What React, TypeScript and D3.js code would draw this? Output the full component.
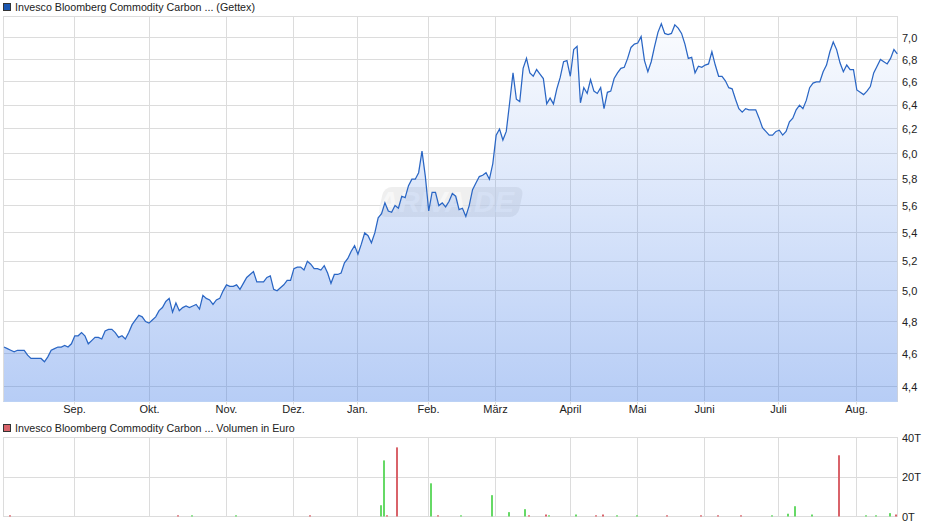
import { useEffect, useRef } from 'react'
import * as d3 from 'd3'

const W = 940
const H = 526
const FONT = '"Liberation Sans", Arial, sans-serif'
const GRID = '#dcdcdc'
const TEXT = '#222222'

const TITLE_PRICE = 'Invesco Bloomberg Commodity Carbon ... (Gettex)'
const TITLE_VOL = 'Invesco Bloomberg Commodity Carbon ... Volumen in Euro'

// daily closes
const PRICES = [
  4.64, 4.63, 4.62, 4.61, 4.62, 4.62, 4.62, 4.59, 4.57, 4.57, 4.57, 4.57, 4.55, 4.58, 4.62, 4.63, 4.64, 4.64, 4.65, 4.64,
  4.66, 4.71, 4.71, 4.73, 4.71, 4.66, 4.68, 4.70, 4.70, 4.69, 4.74, 4.75, 4.75, 4.73, 4.70, 4.71, 4.69, 4.73, 4.78, 4.81,
  4.84, 4.83, 4.80, 4.79, 4.81, 4.83, 4.87, 4.89, 4.93, 4.95, 4.86, 4.92, 4.87, 4.89, 4.90, 4.89, 4.90, 4.91, 4.88, 4.97,
  4.95, 4.94, 4.91, 4.94, 4.95, 5.00, 5.04, 5.03, 5.03, 5.04, 5.01, 5.05, 5.09, 5.11, 5.13, 5.06, 5.06, 5.06, 5.09, 5.10,
  5.01, 5.00, 5.02, 5.04, 5.07, 5.07, 5.15, 5.16, 5.16, 5.14, 5.20, 5.18, 5.15, 5.15, 5.14,
  5.17, 5.12, 5.05, 5.11, 5.11, 5.12, 5.19, 5.22, 5.27, 5.31, 5.25, 5.32, 5.40, 5.38, 5.33, 5.40, 5.51, 5.54, 5.62, 5.56,
  5.55, 5.60, 5.58, 5.67, 5.66, 5.75, 5.80, 5.80, 5.85, 6.02, 5.82, 5.56, 5.70, 5.70, 5.60, 5.62, 5.59, 5.63, 5.69, 5.67,
  5.57, 5.58, 5.52, 5.60, 5.72, 5.77, 5.82, 5.83, 5.85, 5.80, 5.92, 6.15, 6.20, 6.11, 6.18,
  6.42, 6.68, 6.45, 6.43, 6.72, 6.81, 6.68, 6.65, 6.71, 6.67, 6.63, 6.41, 6.46, 6.41, 6.54, 6.64, 6.78, 6.79, 6.65, 6.89,
  6.92, 6.42, 6.55, 6.50, 6.62, 6.52, 6.50, 6.55, 6.37, 6.51, 6.52, 6.63, 6.68, 6.72, 6.73, 6.81, 6.91, 6.94, 6.95, 7.01,
  6.79, 6.69, 6.78, 6.92, 7.05, 7.13, 7.04, 7.03, 7.04, 7.12, 7.09, 7.04, 6.94, 6.81, 6.82, 6.68, 6.74, 6.73, 6.75, 6.76,
  6.87, 6.75, 6.65,
  6.65, 6.61, 6.55, 6.54, 6.45, 6.37, 6.34, 6.37, 6.36, 6.36, 6.36, 6.29, 6.21, 6.18, 6.15, 6.15, 6.18, 6.19, 6.15, 6.18,
  6.26, 6.29, 6.36, 6.40, 6.37, 6.44, 6.55, 6.59, 6.60, 6.60, 6.69, 6.75, 6.87, 6.96, 6.89, 6.77, 6.69, 6.75, 6.71, 6.71,
  6.53, 6.51, 6.49, 6.52, 6.56, 6.68, 6.74, 6.80, 6.78, 6.76, 6.81, 6.89, 6.85,
]

const MONTHS = ['Sep.', 'Okt.', 'Nov.', 'Dez.', 'Jan.', 'Feb.', 'März', 'April', 'Mai', 'Juni', 'Juli', 'Aug.']
const MONTH_IDX = [20.9, 43.2, 66.0, 85.9, 104.9, 125.9, 145.8, 168.0, 187.9, 207.8, 229.8, 252.9]

const PRICE_TICKS = [4.4, 4.6, 4.8, 5.0, 5.2, 5.4, 5.6, 5.8, 6.0, 6.2, 6.4, 6.6, 6.8, 7.0]
const VOL_TICKS = [0, 20, 40]

// volume in thousand euro
const UP_IDX = [56, 69, 112, 113, 127, 136, 145, 150, 155, 162, 170, 182, 188, 228, 233, 235, 240, 256, 259, 263]
const UP_VOL = [0.6, 0.6, 5.7, 28.4, 16.8, 0.6, 10.8, 2.2, 3.7, 0.6, 1, 0.6, 0.6, 0.6, 1.4, 5.2, 1, 0.6, 0.6, 1.7]
const DOWN_IDX = [2, 52, 91, 114, 117, 129, 156, 161, 176, 178, 197, 207, 212, 219, 248, 265]
const DOWN_VOL = [0.6, 0.6, 0.6, 0.6, 35, 0.6, 0.6, 1, 0.6, 1, 0.6, 0.6, 0.6, 0.6, 31, 1]

export default function App() {
  const svgRef = useRef<SVGSVGElement>(null)

  useEffect(() => {
    const svg = d3.select(svgRef.current)
    svg.selectAll('*').remove()

    const L = 3.5, R = 897.5
    const x = d3.scaleLinear().domain([0, PRICES.length - 1]).range([4, 897.3])
    const y = d3.scaleLog().domain([4.316, 7.2]).range([401.5, 16.5])
    const yVol = d3.scaleLinear().domain([0, 40]).range([516.5, 437.5])
    const crisp = (v: number) => Math.floor(v) + 0.5

    const defs = svg.append('defs')
    const grad = defs.append('linearGradient').attr('id', 'area')
      .attr('gradientUnits', 'userSpaceOnUse').attr('x1', 0).attr('x2', 0).attr('y1', 20).attr('y2', 401)
    grad.append('stop').attr('offset', 0).attr('stop-color', '#3c78e6').attr('stop-opacity', 0.02)
    grad.append('stop').attr('offset', 1).attr('stop-color', '#3c78e6').attr('stop-opacity', 0.37)

    // Grid
    const gridV = (y1: number, y2: number) => MONTH_IDX.forEach(m => {
      svg.append('line').attr('x1', crisp(x(m))).attr('x2', crisp(x(m))).attr('y1', y1).attr('y2', y2)
        .attr('stroke', GRID)
    })
    const gridH = (yy: number) => svg.append('line').attr('x1', L).attr('x2', R).attr('y1', crisp(yy)).attr('y2', crisp(yy))
      .attr('stroke', GRID)

    PRICE_TICKS.forEach(t => gridH(y(t)))
    gridV(16.5, 401.5)
    VOL_TICKS.forEach(t => gridH(yVol(t)))
    gridV(437.5, 516.5)

    svg.append('rect').attr('x', L).attr('y', 16.5).attr('width', R - L).attr('height', 385)
      .attr('fill', 'none').attr('stroke', GRID)
    svg.append('rect').attr('x', L).attr('y', 437.5).attr('width', R - L).attr('height', 79)
      .attr('fill', 'none').attr('stroke', GRID)

    // Watermark
    const wm = svg.append('g').attr('transform', 'translate(372,187)')
    wm.append('rect').attr('x', 6).attr('width', 140).attr('height', 30).attr('rx', 8)
      .attr('transform', 'skewX(-12) translate(6,0)').attr('fill', '#e4e4e4').attr('fill-opacity', 0.6)
    wm.append('text').attr('x', 74).attr('y', 25).attr('text-anchor', 'middle')
      .attr('font-family', FONT).attr('font-size', 29).attr('font-weight', 'bold').attr('font-style', 'italic')
      .attr('fill', '#ffffff').attr('fill-opacity', 0.55).text('ARIVA.DE')

    // Area and line
    const area = d3.area<number>().x((_, i) => x(i)).y0(401.5).y1(d => y(d))
    svg.append('path').attr('d', area(PRICES)).attr('fill', 'url(#area)')
    const line = d3.line<number>().x((_, i) => x(i)).y(d => y(d))
    svg.append('path').attr('d', line(PRICES)).attr('fill', 'none').attr('stroke', '#2a66c4').attr('stroke-width', 1.25)
    svg.append('line').attr('x1', L).attr('x2', R).attr('y1', 401.5).attr('y2', 401.5).attr('stroke', '#bcd2f5')

    // Volume bars
    const bars = (idx: number[], vals: number[], color: string) => idx.forEach((d, i) => {
      svg.append('rect').attr('x', Math.round(x(d)) - 2).attr('width', 2)
        .attr('y', yVol(vals[i])).attr('height', yVol(0) - yVol(vals[i]))
        .attr('fill', color)
    })
    bars(UP_IDX, UP_VOL, '#66d966')
    bars(DOWN_IDX, DOWN_VOL, '#d9636a')

    // Axes
    const label = (lx: number, ly: number, s: string, anchor = 'start', size = 11) => svg.append('text')
      .attr('x', lx).attr('y', ly).attr('text-anchor', anchor)
      .attr('font-family', FONT).attr('font-size', size).attr('fill', TEXT).text(s)

    PRICE_TICKS.forEach(t => label(902, y(t) + 4, t.toFixed(1).replace('.', ',')))
    VOL_TICKS.forEach(t => label(902, yVol(t) + 4, `${t}T`))
    MONTHS.forEach((m, i) => {
      const mx = crisp(x(MONTH_IDX[i]))
      svg.append('line').attr('x1', mx).attr('x2', mx).attr('y1', 401.5).attr('y2', 404.5).attr('stroke', GRID)
      label(mx, 413, m, 'middle')
    })

    // Legends
    const legend = (ly: number, color: string, s: string) => {
      svg.append('rect').attr('x', 3.5).attr('y', ly).attr('width', 7).attr('height', 7)
        .attr('fill', color).attr('stroke', '#333333')
      label(15, ly + 7, s, 'start', 10.7)
    }
    legend(3.5, '#1a56b0', TITLE_PRICE)
    legend(424.5, '#d9636a', TITLE_VOL)
  }, [])

  return <svg ref={svgRef} width={W} height={H} style={{ position: 'absolute', left: 0, top: 0, background: '#fff' }} />
}
